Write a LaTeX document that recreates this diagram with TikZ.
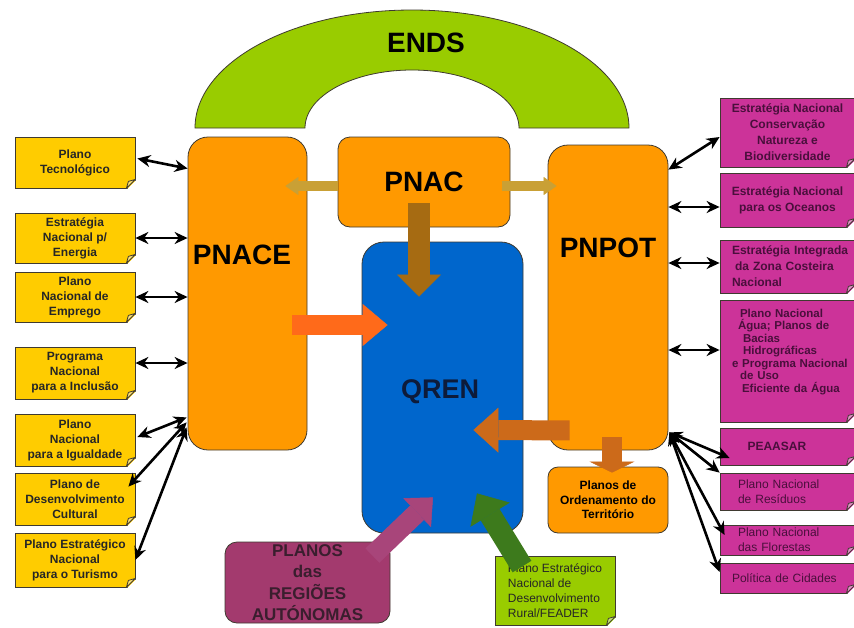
\documentclass[tikz,border=0pt]{standalone}
\usepackage{fontspec}
\setmainfont{Liberation Sans}
\usetikzlibrary{arrows.meta,calc}

\definecolor{endsgreen}{HTML}{99CC00}
\definecolor{boxorange}{HTML}{FF9900}
\definecolor{qrenblue}{HTML}{0066CC}
\definecolor{qrentext}{HTML}{0D1B3A}
\definecolor{notegold}{HTML}{FFCC00}
\definecolor{notepink}{HTML}{CC3399}
\definecolor{pinktext}{HTML}{4A0F3C}
\definecolor{regmauve}{HTML}{A33A6E}
\definecolor{regtext}{HTML}{3A1E2E}
\definecolor{pnacarrow}{HTML}{C9A035}
\definecolor{qrenarrow}{HTML}{A66B12}
\definecolor{pnacearrow}{HTML}{FF6A1A}
\definecolor{pnpotarrow}{HTML}{CC6A1A}
\definecolor{regarrow}{HTML}{A8457A}
\definecolor{feaderarrow}{HTML}{3D7A1C}
\definecolor{edge}{HTML}{3F3A30}

% folded corner of a note
\newcommand\dogear[2]{%
  \fill[white] ($(#1.south east)+(-9,1.5)$) -- ($(#1.south east)+(1.5,1.5)$) -- ($(#1.south east)+(1.5,-9)$) -- cycle;
  \draw[edge, line width=0.8pt, fill=#2!55!white, line join=round] ($(#1.south east)+(-9,0)$) -- ($(#1.south east)+(0,-9)$) -- ($(#1.south east)+(-7,-7)$) -- cycle;
}

\begin{document}
\begin{tikzpicture}[x=1pt,y=-1pt,
  bigbox/.style={draw=edge, line width=0.8pt, fill=boxorange, rounded corners=16pt},
  bigtext/.style={font=\fontsize{28}{30}\selectfont\bfseries, text=black},
  goldnote/.style={draw=edge, line width=0.8pt, fill=notegold, minimum width=120, inner sep=0pt, align=center, font=\fontsize{12}{15}\selectfont\bfseries, text=black!85},
  pinknote/.style={draw=edge, line width=0.8pt, fill=notepink, minimum width=135, inner sep=0pt, text=pinktext, font=\fontsize{12}{16}\selectfont\bfseries},
  pinkleft/.style={pinknote, text width=130, align=left},
  link/.style={{Stealth[length=13pt,width=12pt]}-{Stealth[length=13pt,width=12pt]}, line width=2.6pt},
  blockarrow/.style n args={3}{line width=#1, -{Triangle[width=#2,length=#3,line width=0.5pt]}},
]
\useasboundingbox (0,0) rectangle (854,627);
\clip (0,0) rectangle (854,627);

% ENDS arch
\draw[edge, line width=0.8pt, fill=endsgreen] (195,128) arc[start angle=180, end angle=0, x radius=217pt, y radius=118pt]
  -- (519,128) arc[start angle=0, end angle=180, x radius=107pt, y radius=58pt] -- cycle;
\node[bigtext] (ends) at (426,43) {ENDS};

% main blocks
\node[bigbox, rounded corners=20pt, minimum width=119, minimum height=313] (pnace) at (247.5,293.5) {};
\node[bigtext] (pnacetext) at (242,255) {PNACE};
\node[bigbox, rounded corners=12pt, minimum width=172, minimum height=90, bigtext] (pnac) at (424,182) {PNAC};
\node[bigbox, rounded corners=20pt, minimum width=120, minimum height=305] (pnpot) at (608,297.5) {};
\node[bigtext] (pnpottext) at (608,248) {PNPOT};
\node[draw=edge, line width=0.8pt, fill=qrenblue, rounded corners=22pt, minimum width=161, minimum height=291] (qren) at (442.5,387.5) {};
\node[bigtext, font=\fontsize{27}{30}\selectfont\bfseries, text=qrentext] (qrentext) at (440,392) {QREN};
\node[bigbox, rounded corners=10pt, minimum width=120, minimum height=66, align=center, font=\fontsize{12}{14.5}\selectfont\bfseries] (pot) at (608,500) {Planos de\\Ordenamento do\\Território};
\node[draw=edge, line width=0.8pt, fill=regmauve, rounded corners=12pt, minimum width=165, minimum height=81, inner sep=0pt, align=center, font=\fontsize{17}{21.5}\selectfont\bfseries, text=regtext] (regioes) at (307.5,582.5) {PLANOS\\das\\REGIÕES\\AUTÓNOMAS};
\node[draw=edge, line width=0.8pt, fill=endsgreen, minimum width=120, minimum height=69, inner sep=0pt, align=left, font=\fontsize{12}{15}\selectfont, text=black!85] (feader) at (555,590.5) {Plano Estratégico\\Nacional de\\Desenvolvimento\\Rural/FEADER};

% left notes
\node[goldnote, minimum height=51] (t1) at (75,162.5) {Plano\\Tecnológico};
\node[goldnote, minimum height=50] (t2) at (75,238) {Estratégia\\Nacional p/\\Energia};
\node[goldnote, minimum height=50] (t3) at (75,297) {Plano\\Nacional de\\Emprego};
\node[goldnote, minimum height=52] (t4) at (75,373) {Programa\\Nacional\\para a Inclusão};
\node[goldnote, minimum height=52] (t5) at (75,440) {Plano\\Nacional\\para a Igualdade};
\node[goldnote, minimum height=52] (t6) at (75,499) {Plano de\\Desenvolvimento\\Cultural};
\node[goldnote, minimum height=54] (t7) at (75,560) {Plano Estratégico\\Nacional\\para o Turismo};

% right notes
\node[pinknote, minimum height=69, align=center] (m1) at (787.5,132.5) {Estratégia Nacional\\Conservação\\Natureza e\\Biodiversidade};
\node[pinknote, minimum height=54, align=center] (m2) at (787.5,200) {Estratégia Nacional\\para os Oceanos};
\node[pinkleft, minimum height=53] (m3) at (787.5,266.5) {\hspace*{9.5pt}Estratégia Integrada\\\hspace*{12.5pt}da Zona Costeira\\\hspace*{9.5pt}Nacional};
\node[pinkleft, minimum height=122, font=\fontsize{11.5}{12.5}\selectfont\bfseries] (m4) at (787.5,361) {\hspace*{17.5pt}Plano Nacional\\\hspace*{15.5pt}Água; Planos de\\\hspace*{20.5pt}Bacias\\\hspace*{20.5pt}Hidrográficas\\\hspace*{9.5pt}e Programa Nacional\\\hspace*{17.5pt}de Uso\\\hspace*{19.5pt}Eficiente da Água\\[8pt]\mbox{}};
\node[pinkleft, minimum height=37] (m5) at (787.5,446.5) {\hspace*{25pt}PEAASAR};
\node[pinkleft, minimum height=37, font=\fontsize{12}{15}\selectfont] (m6) at (787.5,491.5) {\hspace*{15.5pt}Plano Nacional\\\hspace*{15.5pt}de Resíduos};
\node[pinkleft, minimum height=30, font=\fontsize{12}{15}\selectfont] (m7) at (787.5,540) {\hspace*{15.5pt}Plano Nacional\\\hspace*{15.5pt}das Florestas};
\node[pinkleft, minimum height=30, font=\fontsize{12}{15}\selectfont] (m8) at (787.5,578) {\hspace*{9.5pt}Política de Cidades};

% block arrows
\draw[pnacarrow, blockarrow={10pt}{18pt}{13pt}] ($(pnac.west)+(0,4)$) -- ($(pnace.east |- pnac.west)+(-22,4)$);
\draw[pnacarrow, blockarrow={10pt}{18pt}{13pt}] ($(pnac.east)+(-8,4)$) -- ($(pnpot.west |- pnac.east)+(9,4)$);
\draw[qrenarrow, blockarrow={22pt}{44pt}{22pt}] ($(pnac.south)+(-5,-24)$) -- ($(qren.north)+(-23.5,55)$);
\draw[pnacearrow, blockarrow={20pt}{42pt}{25pt}] ($(pnace.east)+(-15,31.5)$) -- ($(qren.west)+(26,-62.5)$);
\draw[pnpotarrow, blockarrow={20pt}{45pt}{25pt}] ($(pnpot.south west)+(22,-20)$) -- ($(qren.east)+(-50,42.5)$);
\draw[pnpotarrow, blockarrow={20pt}{45pt}{11pt}] ($(pnpot.south)+(4,-13)$) -- ($(pot.north)+(4,6)$);
\draw[regarrow, blockarrow={20pt}{40pt}{22pt}] ($(regioes.north east)+(-18,14)$) -- ($(qren.south)+(-9.5,-36)$);
\draw[feaderarrow, blockarrow={22pt}{46pt}{25pt}] ($(feader.north)+(-33,11)$) -- ($(qren.south)+(34.5,-40)$);

% links to PNACE
\coordinate (pnacelow) at ($(pnace.south west)+(-1,-28)$);
\draw[link] ($(t1.east)+(2,-4)$) -- ($(pnace.west |- t1.east)+(0,6)$);
\draw[link] (t2.east) -- (t2.east -| pnace.west);
\draw[link] (t3.east) -- (t3.east -| pnace.west);
\draw[link] ($(t4.east)+(0,-10)$) -- ($(t4.east -| pnace.west)+(0,-10)$);
\draw[link] ($(t5.east)+(2,-3)$) -- ($(pnacelow)+(0,-5)$);
\draw[link] ($(t6.north east)+(-7,14)$) -- (pnacelow);
\draw[link] (t7.east) -- ($(pnacelow)+(0,5)$);

% links to PNPOT
\coordinate (pnpotlow) at ($(pnpot.south east)+(1,-18)$);
\draw[link] ($(pnpot.north east)+(0,25)$) -- ($(m1.west)+(0,4.5)$);
\draw[link] ($(m2.west -| pnpot.east)+(0,7)$) -- ($(m2.west)+(0,7)$);
\draw[link] ($(m3.west -| pnpot.east)+(0,-3.5)$) -- ($(m3.west)+(0,-3.5)$);
\draw[link] ($(m4.west -| pnpot.east)+(0,-11)$) -- ($(m4.west)+(0,-11)$);
\draw[link] (pnpotlow) -- ($(m5.west)+(10,11.5)$);
\draw[link] (pnpotlow) -- (m6.north west);
\draw[link] (pnpotlow) -- ($(m7.west)+(5,-5)$);
\draw[link] (pnpotlow) -- ($(m8.west)+(0,-6)$);

% folded corners
\foreach \n/\c in {t1/notegold,t2/notegold,t3/notegold,t4/notegold,t5/notegold,t6/notegold,t7/notegold,
  m1/notepink,m2/notepink,m3/notepink,m4/notepink,m5/notepink,m6/notepink,m7/notepink,m8/notepink,feader/endsgreen}
  {\dogear{\n}{\c}}
\end{tikzpicture}
\end{document}
